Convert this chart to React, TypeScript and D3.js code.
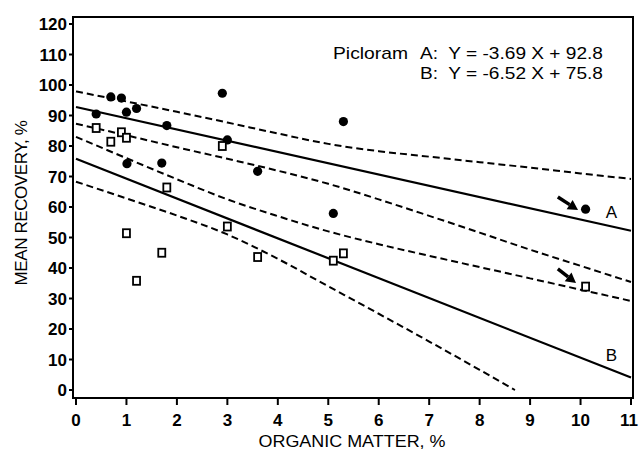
import React from 'react';
import * as d3 from 'd3';

// Picloram: (organic matter %, mean recovery %)
const pointsA = [
  [0.4, 90.5], [0.69, 96.1], [0.9, 95.7], [1.0, 91.1], [1.2, 92.3], [1.01, 74.2],
  [1.7, 74.4], [1.8, 86.7], [2.9, 97.3], [3.0, 82.0], [3.6, 71.7], [5.3, 88.0],
  [5.1, 57.9], [10.1, 59.3],
];
const pointsB = [
  [0.4, 85.9], [0.69, 81.4], [0.9, 84.5], [1.0, 82.7], [2.9, 80.0], [1.8, 66.4],
  [1.0, 51.4], [1.7, 45.0], [1.2, 35.8], [3.0, 53.6], [3.6, 43.6], [5.1, 42.4],
  [5.3, 44.8], [10.1, 33.9],
];

// regression lines (slope, intercept)
const fitA = { slope: -3.69, intercept: 92.8 };
const fitB = { slope: -6.52, intercept: 75.8 };
const fitRange = [0, 11];

// confidence bands
const bandAUpper = [
  [0, 97.9], [1, 94.6], [2, 91.2], [3, 87.7], [4, 84.1], [5, 80.7], [6, 78.3],
  [7, 76.5], [8, 74.7], [9, 72.9], [10, 71.0], [11, 69.2],
];
const bandALower = [
  [0, 87.3], [1, 83.5], [2, 79.6], [3, 75.8], [4, 71.9], [5, 67.6], [6, 62.5],
  [7, 57.1], [8, 51.6], [9, 46.0], [10, 40.7], [11, 35.4],
];
const bandBUpper = [
  [0, 83.0], [1, 76.0], [2, 69.1], [3, 62.5], [4, 57.0], [5, 52.0], [6, 47.8],
  [7, 44.0], [8, 40.3], [9, 36.6], [10, 32.9], [11, 29.2],
];
const bandBLower = [
  [0, 68.3], [1, 62.8], [2, 57.2], [3, 51.0], [4, 43.0], [5, 34.0], [6, 25.0],
  [7, 15.9], [8, 6.6], [8.7, 0],
];

// arrows pointing at the 10.1 % points: [tail, tip]
const arrows = [
  [[9.55, 63.3], [9.95, 59.0]],
  [[9.55, 39.7], [9.91, 35.1]],
];
const lineLabels = [
  { text: 'A', x: 10.61, y: 58.5 },
  { text: 'B', x: 10.61, y: 11.5 },
];

const xTicks = [0, 1, 2, 3, 4, 5, 6, 7, 8, 9, 10, 11];
const yTicks = [0, 10, 20, 30, 40, 50, 60, 70, 80, 90, 100, 110, 120];

const W = 639;
const H = 454;
const frame = { left: 73, top: 17, right: 633, bottom: 398 };
const font = '"Liberation Sans", Arial, Helvetica, sans-serif';

export default function App() {
  const x = d3.scaleLinear().domain([0, 11]).range([76, 631]);
  const y = d3.scaleLinear().domain([0, 120]).range([390, 24]);

  const curve = d3.line<number[]>()
    .x(d => x(d[0]))
    .y(d => y(d[1]))
    .curve(d3.curveMonotoneX);

  const fitPath = (f: { slope: number; intercept: number }) =>
    curve(fitRange.map(v => [v, f.slope * v + f.intercept])) || '';

  const dash = { fill: 'none', stroke: '#000', strokeWidth: 2, strokeDasharray: '7 4' };

  return (
    <svg width={W} height={H} style={{ position: 'absolute', left: 0, top: 0, background: '#fff' }}
      fontFamily={font}>
      <rect x={frame.left} y={frame.top} width={frame.right - frame.left}
        height={frame.bottom - frame.top} fill="none" stroke="#000" strokeWidth={2} />

      {/* y axis */}
      {yTicks.map(t => (
        <g key={'y' + t}>
          <line x1={frame.left - 4} x2={frame.left} y1={y(t)} y2={y(t)} stroke="#000" strokeWidth={2} />
          <text x={frame.left - 6} y={y(t)} dy="0.36em" textAnchor="end" fontSize={17}
            fontWeight="bold">{t}</text>
        </g>
      ))}
      {/* x axis */}
      {xTicks.map(t => (
        <g key={'x' + t}>
          <line x1={x(t)} x2={x(t)} y1={frame.bottom} y2={frame.bottom + 7} stroke="#000" strokeWidth={2} />
          <text x={Math.min(x(t), W - 10)} y={426} textAnchor="middle" fontSize={17}
            fontWeight="bold">{t}</text>
        </g>
      ))}

      <text x={(frame.left + frame.right) / 2 - 1} y={447} textAnchor="middle" fontSize={16}
        textLength={187} lengthAdjust="spacingAndGlyphs">ORGANIC MATTER, %</text>
      <text transform={`translate(27,${203}) rotate(-90)`} textAnchor="middle" fontSize={17}
        letterSpacing={-0.4}>MEAN RECOVERY, %</text>

      {/* bands */}
      {[bandAUpper, bandALower, bandBUpper, bandBLower].map((b, i) => (
        <path key={'band' + i} d={curve(b) || ''} {...dash} />
      ))}
      {/* fits */}
      <path d={fitPath(fitA)} fill="none" stroke="#000" strokeWidth={2.2} />
      <path d={fitPath(fitB)} fill="none" stroke="#000" strokeWidth={2.2} />

      {/* points */}
      {pointsA.map((p, i) => (
        <circle key={'a' + i} cx={x(p[0])} cy={y(p[1])} r={4.6} fill="#000" />
      ))}
      {pointsB.map((p, i) => (
        <rect key={'b' + i} x={x(p[0]) - 3.5} y={y(p[1]) - 4} width={7} height={8}
          fill="#fff" stroke="#000" strokeWidth={1.8} />
      ))}

      {/* arrows */}
      {arrows.map((a, i) => {
        const x0 = x(a[0][0]), y0 = y(a[0][1]);
        const x1 = x(a[1][0]), y1 = y(a[1][1]);
        const len = Math.hypot(x1 - x0, y1 - y0);
        const ux = (x1 - x0) / len, uy = (y1 - y0) / len;
        const hl = 10, hw = 5.5;
        const bx = x1 - ux * hl, by = y1 - uy * hl;
        const head = `${x1},${y1} ${bx - uy * hw},${by + ux * hw} ${bx + uy * hw},${by - ux * hw}`;
        return (
          <g key={'arr' + i}>
            <line x1={x0} y1={y0} x2={bx} y2={by} stroke="#000" strokeWidth={3.5} />
            <polygon points={head} fill="#000" />
          </g>
        );
      })}

      {lineLabels.map(l => (
        <text key={l.text} x={x(l.x)} y={y(l.y)} dy="0.36em" textAnchor="middle" fontSize={17}>{l.text}</text>
      ))}

      {/* equations */}
      <text x={333} y={59} fontSize={17} textLength={75} lengthAdjust="spacingAndGlyphs">Picloram</text>
      <text x={420} y={59} fontSize={17} textLength={183} lengthAdjust="spacingAndGlyphs"
        style={{ whiteSpace: 'pre' }}>{'A:  Y = -3.69 X + 92.8'}</text>
      <text x={420} y={79} fontSize={17} textLength={183} lengthAdjust="spacingAndGlyphs"
        style={{ whiteSpace: 'pre' }}>{'B:  Y = -6.52 X + 75.8'}</text>
    </svg>
  );
}
